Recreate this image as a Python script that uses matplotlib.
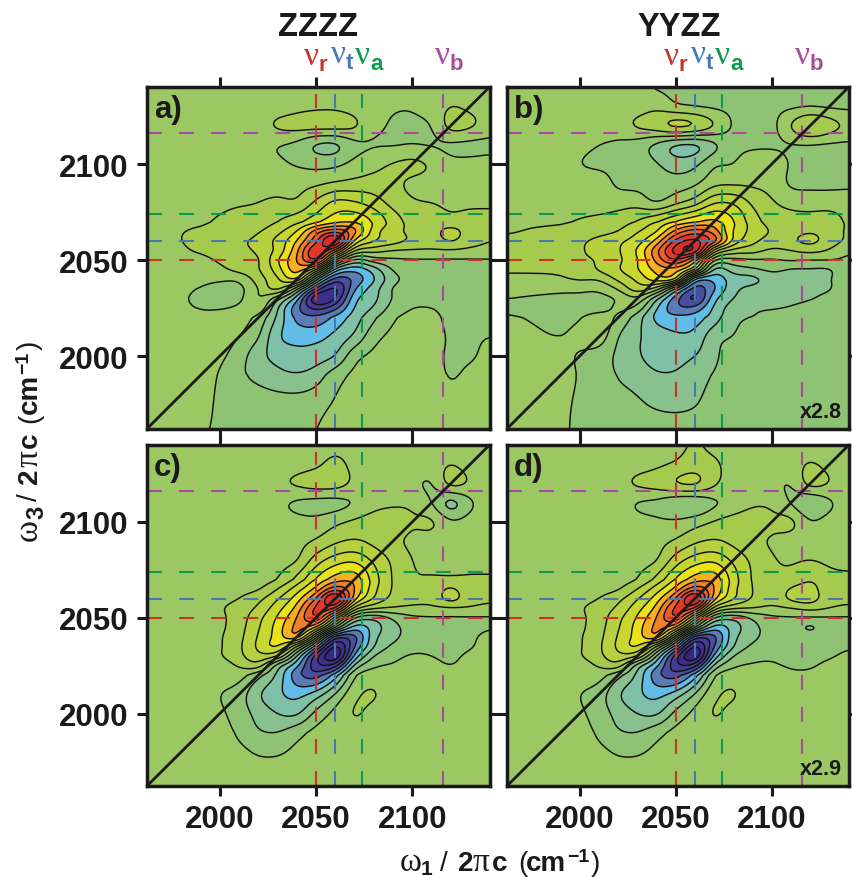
import numpy as np
import matplotlib
matplotlib.use("Agg")
import matplotlib.pyplot as plt
from matplotlib.colors import ListedColormap, BoundaryNorm

W1 = [1962,1975,1990,2000,2010,2020,2030,2040,2050,2060,2070,2080,2090,2100,2110,2120,2130,2140]
W3 = [2140,2130,2120,2110,2100,2090,2080,2070,2065,2060,2055,2050,2045,2040,2035,2030,2025,2020,2010,2000,1990,1975,1962]

# Signal, in tenths of a contour step (rows follow W3, columns follow W1)
panel_a = [
[0,0,0,0,0,0,0,1,1,1,0,0,-1,-1,0,1,1,1],
[0,0,0,0,0,0,0,2,3,3,1,-2,-4,-4,0,5,3,1],
[1,1,1,1,1,1,7,9,10,10,7,-2,-6,-7,-5,9,7,1],
[0,0,0,0,-1,-3,-5,-8,-17,-18,-8,-6,-6,-5,-6,-7,-8,-8],
[0,0,0,0,0,-1,-3,-6,-8,-7,-2,2,6,8,4,-2,-2,-1],
[0,0,0,0,0,1,1,2,3,6,8,9,7,3,2,2,2,2],
[1,1,2,3,4,5,7,6,17,28,26,20,11,6,5,4,4,4],
[2,3,4,6,8,9,15,22,32,42,44,34,21,11,8,7,7,7],
[2,4,6,7,8,14,22,35,60,72,58,30,18,13,10,20,9,8],
[3,4,7,9,13,18,28,45,72,100,42,26,19,13,9,16,8,5],
[2,3,6,8,12,17,28,52,85,62,15,9,5,4,4,4,3,3],
[1,2,3,6,9,14,34,55,75,15,-18,-10,-7,-6,-6,-6,-6,-6],
[0,1,1,3,8,14,30,50,25,-30,-42,-30,-14,-10,-10,-12,-7,-6],
[0,0,-1,-3,-3,10,23,35,-22,-60,-52,-36,-18,-12,-11,-10,-8,-7],
[0,0,-6,-10,-8,5,18,-12,-58,-78,-46,-30,-14,-9,-8,-8,-7,-7],
[0,-1,-8,-10,-8,6,-12,-40,-85,-75,-38,-28,-14,-9,-7,-7,-7,-7],
[0,0,-6,-6,-3,2,-24,-52,-68,-58,-34,-24,-11,-5,-5,-7,-7,-7],
[0,0,0,0,-1,-8,-27,-48,-52,-42,-30,-17,-6,-3,-3,-7,-7,-7],
[0,0,0,-1,-5,-14,-34,-38,-38,-32,-23,-8,-3,-2,-2,-6,-6,-5],
[0,0,0,-3,-10,-22,-28,-32,-30,-25,-8,-3,-2,-1,-3,-6,-6,-3],
[0,0,0,-6,-13,-18,-22,-24,-20,-9,-3,-2,-1,-1,-1,-6,-3,-2],
[0,0,-1,-7,-8,-9,-10,-10,-8,-4,-2,-1,-1,-1,-1,-1,-1,-1],
[0,0,-4,-6,-7,-7,-7,-6,-5,-3,-1,0,0,0,0,0,0,0],
]
panel_b = [
[0,0,0,0,0,0,-3,-6,-7,-7,-7,-7,-7,-7,-7,-7,-7,-7],
[0,0,0,0,0,0,0,2,-4,-6,-7,-7,-7,-7,-7,-6,-7,-7],
[0,0,0,0,0,1,7,12,20,17,6,-6,-8,-8,6,18,11,3],
[0,0,1,-2,-5,-7,-10,-18,-27,-28,-18,-8,-7,-7,-6,-6,-7,-7],
[0,0,0,-5,-7,-7,-9,-14,-20,-17,-6,-5,1,2,-6,-7,-7,-7],
[0,0,0,0,0,-7,-8,-9,-10,-7,2,3,3,2,-7,-7,-7,-7],
[0,0,0,0,0,1,1,-6,2,10,24,24,13,6,2,0,0,0],
[1,3,4,6,8,10,16,25,36,44,48,36,20,11,9,10,11,3],
[4,6,7,8,11,15,24,34,58,70,60,34,22,14,12,14,11,3],
[7,8,9,13,18,23,30,48,78,88,70,32,18,11,13,18,10,3],
[8,8,9,14,18,24,36,62,90,95,30,12,9,3,5,8,4,-3],
[8,8,9,13,16,23,34,58,75,50,-5,-8,-6,-6,-4,-5,-5,-7],
[6,6,6,8,16,24,34,48,50,25,-28,-20,-17,-13,-16,-16,-16,-7],
[3,3,4,6,6,17,27,40,35,-38,-42,-30,-28,-20,-18,-18,-16,-7],
[-1,-2,-3,-3,-3,6,20,10,-28,-60,-46,-28,-22,-20,-19,-18,-16,-7],
[-5,-6,-7,-7,-8,-4,3,-22,-50,-68,-38,-25,-18,-18,-18,-16,-11,-7],
[-6,-8,-10,-10,-10,-3,-8,-34,-52,-52,-33,-20,-16,-16,-14,-10,-8,-7],
[-4,-6,-10,-6,1,-7,-20,-38,-42,-40,-30,-17,-15,-10,-8,-7,-7,-7],
[1,-2,-5,0,1,-15,-24,-28,-33,-32,-18,-15,-8,-7,-7,-7,-7,-7],
[0,0,0,-7,-10,-17,-24,-28,-28,-25,-18,-7,-7,-7,-7,-7,-7,-7],
[0,0,0,-6,-8,-16,-20,-24,-24,-20,-14,-8,-7,-7,-7,-7,-7,-7],
[0,0,-2,-7,-7,-9,-13,-17,-18,-16,-10,-8,-7,-7,-7,-7,-7,-7],
[0,0,-3,-7,-7,-7,-8,-9,-10,-9,-7,-7,-7,-7,-7,-7,-7,-7],
]
panel_c = [
[0,0,0,0,0,0,0,0,0,2,1,0,0,0,0,0,0,0],
[0,0,0,0,0,0,0,1,3,8,2,0,0,0,1,5,1,0],
[0,0,0,0,0,0,3,7,10,10,3,0,-1,-3,-6,9,4,0],
[0,0,0,0,0,0,-3,-7,-9,-9,-5,1,3,3,-5,-20,-7,0],
[0,0,0,0,0,0,-1,-2,-2,3,7,10,11,6,7,-3,-1,0],
[0,0,0,0,0,0,0,2,6,13,16,12,7,3,1,0,0,0],
[0,0,0,0,0,1,2,4,20,30,33,23,13,5,2,2,2,2],
[0,0,0,0,0,1,5,18,36,50,52,30,14,6,6,6,6,6],
[0,0,0,0,2,4,15,30,48,72,55,28,14,8,8,17,7,7],
[0,0,0,2,5,12,24,40,65,100,48,24,12,8,8,19,8,6],
[0,0,1,4,9,17,31,48,78,75,20,7,4,3,3,4,4,3],
[0,0,0,3,10,22,36,55,75,30,-15,-22,-13,-7,-6,-6,-6,-6],
[0,0,0,3,11,24,39,58,45,-5,-40,-30,-18,-11,-8,-8,-8,-6],
[0,0,0,4,12,26,39,52,0,-60,-58,-28,-18,-10,-8,-8,-7,-2],
[0,0,0,4,13,27,36,5,-40,-88,-55,-25,-13,-8,-7,-8,-6,-1],
[0,0,0,4,12,22,15,-25,-70,-95,-42,-15,-8,-4,-5,-7,-3,0],
[0,0,0,0,6,10,-20,-42,-72,-70,-22,-7,-4,-1,-2,-5,-1,0],
[0,0,0,0,-1,-12,-27,-52,-60,-40,-6,1,0,0,0,0,0,0],
[0,0,0,-5,-10,-24,-33,-38,-30,-14,3,6,0,0,0,0,0,0],
[0,0,0,-3,-10,-18,-25,-27,-12,-2,6,2,0,0,0,0,0,0],
[0,0,0,0,-7,-14,-15,-8,-2,0,1,0,0,0,0,0,0,0],
[0,0,0,0,0,-3,-3,-1,0,0,0,0,0,0,0,0,0,0],
[0,0,0,0,0,0,0,0,0,0,0,0,0,0,0,0,0,0],
]
panel_d = [
[0,0,0,0,0,0,0,1,2,6,2,0,0,0,0,0,0,0],
[0,0,0,0,0,0,1,3,6,10,7,1,0,0,1,6,2,0],
[0,0,0,0,0,2,7,10,16,18,7,0,-1,-3,-5,9,5,0],
[0,0,0,0,0,-1,-6,-8,-14,-15,-7,-3,3,3,-6,-15,-7,0],
[0,0,0,0,0,0,-2,-3,-3,1,6,10,11,7,8,-4,-1,0],
[0,0,0,0,0,0,0,2,6,13,16,12,7,4,1,0,0,0],
[0,0,0,0,0,1,2,4,20,30,33,23,13,6,4,5,3,2],
[0,0,0,0,0,1,5,18,36,50,52,30,14,7,8,14,8,7],
[0,0,0,0,2,4,15,30,48,72,55,28,15,8,16,19,8,7],
[0,0,0,2,5,12,24,40,65,100,48,26,14,8,17,20,8,7],
[0,0,1,4,9,17,31,48,78,75,20,7,5,3,5,8,5,3],
[0,0,0,3,10,22,36,55,75,30,-15,-22,-13,-7,-6,-6,-6,-6],
[0,0,0,3,11,24,39,58,45,-5,-40,-30,-18,-11,-10,-17,-9,-8],
[0,0,0,4,12,26,39,52,0,-60,-58,-28,-18,-10,-8,-10,-8,-7],
[0,0,0,4,13,27,36,5,-40,-88,-55,-25,-13,-8,-7,-8,-8,-6],
[0,0,0,4,12,22,15,-25,-70,-95,-42,-15,-8,-6,-7,-7,-6,-3],
[0,0,0,0,6,10,-20,-42,-72,-70,-22,-7,-4,-4,-6,-6,-3,-1],
[0,0,0,0,-1,-12,-27,-52,-60,-40,-6,1,0,0,-3,-3,0,0],
[0,0,0,-5,-10,-24,-33,-38,-30,-14,3,6,0,0,0,0,0,0],
[0,0,0,-3,-10,-18,-25,-27,-12,-2,6,2,0,0,0,0,0,0],
[0,0,0,0,-7,-14,-15,-8,-2,0,1,0,0,0,0,0,0,0],
[0,0,0,0,0,-3,-3,-1,0,0,0,0,0,0,0,0,0,0],
[0,0,0,0,0,0,0,0,0,0,0,0,0,0,0,0,0,0],
]
panel_names = ["a)", "b)", "c)", "d)"]
panel_scales = ["", "x2.8", "", "x2.9"]
titles = ["ZZZZ", "YYZZ"]
nu_r, nu_t, nu_a, nu_b = 2050, 2060, 2074, 2116
ticks = [2000, 2050, 2100]

levels = [-1000,-85,-75,-65,-55,-45,-35,-25,-15,-5,5,15,25,35,45,55,65,75,85,95,1000]
band_colors = ["#3a2680","#3f2f8c","#453a96","#4a4e9e","#5a7cb8","#62bde6","#7fc0a8","#88c08e","#8fc374",
               "#9bc862","#a5ca4e","#b6d03f","#c8d730","#ebe31a","#f9b01f","#f28028","#ec5f2b","#e4382d","#d62f2c","#a32e26"]
cmap = ListedColormap(band_colors)
norm = BoundaryNorm(levels, cmap.N)

RED, BLUE, GREEN, PURPLE = "#c8342c", "#4a78b0", "#0e9b50", "#a84c9a"
INK = "#1a1a1a"
SANS = "Liberation Sans"
SERIF = "Liberation Serif"
W, H = 852, 878


def smooth_axis(a, f, axis):
    a = np.moveaxis(np.asarray(a, float), axis, 0)
    n = a.shape[0]
    t = np.linspace(0, n - 1, (n - 1) * f + 1)
    i = np.clip(np.floor(t).astype(int), 0, n - 2)
    u = (t - i).reshape((-1,) + (1,) * (a.ndim - 1))
    p0, p1, p2, p3 = a[np.clip(i - 1, 0, n - 1)], a[i], a[i + 1], a[np.clip(i + 2, 0, n - 1)]
    out = 0.5 * (2 * p1 + (p2 - p0) * u + (2 * p0 - 5 * p1 + 4 * p2 - p3) * u ** 2 + (3 * p1 - p0 - 3 * p2 + p3) * u ** 3)
    return np.moveaxis(out, 0, axis)


def soften(z, half):
    k = np.hanning(2 * half + 3)[1:-1]
    k = k / k.sum()
    z = np.apply_along_axis(lambda v: np.convolve(np.pad(v, half, mode="edge"), k, mode="valid"), 0, z)
    z = np.apply_along_axis(lambda v: np.convolve(np.pad(v, half, mode="edge"), k, mode="valid"), 1, z)
    return z


def draw_text(x, y, s, size, color=INK, weight="bold", family=SANS, rot=0):
    fig.text(x / W, 1 - y / H, s, fontsize=size, color=color, fontweight=weight, family=family,
             rotation=rot, rotation_mode="anchor", ha="left", va="baseline")


fig = plt.figure(figsize=(8.52, 8.78), dpi=100, facecolor="white")
boxes = [(146.7, 490, 88.3, 430), (506.7, 849.3, 88.3, 430), (146.7, 490, 446.3, 787.3), (506.7, 849.3, 446.3, 787.3)]
panels = [panel_a, panel_b, panel_c, panel_d]
f = 8
xf = np.interp(np.linspace(0, len(W1) - 1, (len(W1) - 1) * f + 1), np.arange(len(W1)), W1)
yf = np.interp(np.linspace(0, len(W3) - 1, (len(W3) - 1) * f + 1), np.arange(len(W3)), W3)

for k, (box, grid) in enumerate(zip(boxes, panels)):
    l, r, t, b = box
    ax = fig.add_axes([l / W, 1 - b / H, (r - l) / W, (b - t) / H])
    z = soften(smooth_axis(smooth_axis(grid, f, 0), f, 1), 4)
    ax.contourf(xf, yf, z, levels=levels, cmap=cmap, norm=norm)
    ax.contour(xf, yf, z, levels=levels[1:-1], colors="#111111", linewidths=1.05, linestyles="solid")
    dash = (0, (7.2, 8.2))
    for v, c in zip([nu_r, nu_t, nu_a, nu_b], [RED, BLUE, GREEN, PURPLE]):
        ax.plot([v, v], [1962, 2136.5], color=c, lw=1.5, ls=dash)
        ax.plot([1962, 2140], [v, v], color=c, lw=1.5, ls=dash)
    ax.plot([1962, 2140.4], [1962, 2140.4], color=INK, lw=2.0)
    ax.set_xlim(1962, 2140.4)
    ax.set_ylim(1962, 2140)
    ax.set_xticks(ticks)
    ax.set_yticks(ticks)
    ax.tick_params(length=7, width=2.2, color=INK, direction="out", top=True, right=True,
                   labelbottom=k >= 2, labelleft=k % 2 == 0, labelsize=22.5, labelcolor=INK, pad=6)
    for lab in ax.get_xticklabels() + ax.get_yticklabels():
        lab.set_family(SANS)
        lab.set_fontweight("bold")
    for s in ax.spines.values():
        s.set_linewidth(2.5)
        s.set_color(INK)
    draw_text(l + 7, t + 30, panel_names[k], 22.5)
    if panel_scales[k]:
        draw_text(r - 49, b - 12, panel_scales[k], 15.5)

for x0, title in zip([278, 637], titles):
    draw_text(x0, 36, title, 23.5)

for dx in [0, 360]:
    for x, y, sub, c in [(304, 65, "r", RED), (331, 63, "t", BLUE), (355, 64, "a", GREEN), (435, 64, "b", PURPLE)]:
        draw_text(x + dx, y, "\u03bd", 24, color=c, weight="normal", family=SERIF)
        draw_text(x + dx + 15, y + 6, sub, 16, color=c)

# x axis label
draw_text(400, 871, "\u03c9", 24, weight="normal", family=SERIF)
draw_text(421, 875, "1", 15)
draw_text(440, 871, "/", 20, weight="normal")
draw_text(458, 871, "2", 20)
draw_text(473, 871, "\u03c0", 24, weight="normal", family=SERIF)
draw_text(492, 871, "c", 20)
draw_text(518, 871, "(", 20, weight="normal")
draw_text(526, 871, "cm", 20)
draw_text(567, 862, "\u22121", 14)
draw_text(591, 871, ")", 20, weight="normal")

# y axis label
draw_text(37, 541, "\u03c9", 24, weight="normal", family=SERIF, rot=90)
draw_text(43, 519, "3", 17, rot=90)
draw_text(37, 501, "/", 20, weight="normal", rot=90)
draw_text(37, 484, "2", 20, rot=90)
draw_text(37, 467, "\u03c0", 24, weight="normal", family=SERIF, rot=90)
draw_text(37, 448, "c", 20, rot=90)
draw_text(37, 423, "(", 20, weight="normal", rot=90)
draw_text(37, 414, "cm", 20, rot=90)
draw_text(28, 374, "\u22121", 14, rot=90)
draw_text(37, 350, ")", 20, weight="normal", rot=90)

fig.savefig("out.png", dpi=100, facecolor="white")
